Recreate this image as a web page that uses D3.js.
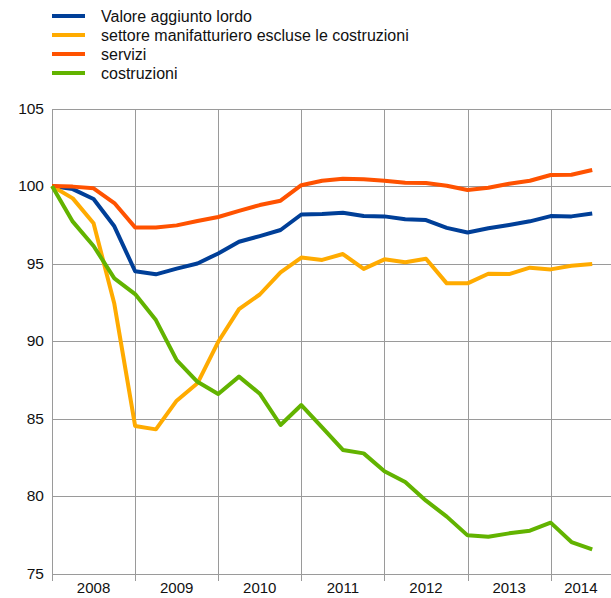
<!DOCTYPE html>
<html><head><meta charset="utf-8">
<script src="https://cdn.jsdelivr.net/npm/d3@7"></script>
<style>body{margin:0;background:#fff}svg{display:block}text{font-family:"Liberation Sans",Arial,sans-serif;fill:#111}</style>
</head><body>
<svg id="c" width="611" height="598"></svg>
<script>
const years = ["2008","2009","2010","2011","2012","2013","2014"];
const yTicks = [75,80,85,90,95,100,105];
const seriesNames = ["Valore aggiunto lordo","settore manifatturiero escluse le costruzioni","servizi","costruzioni"];
const seriesColors = ["#003f98","#ffab00","#ff5200","#62b300"];
// quarterly values, 2008Q1 .. 2014Q3
const valoreAggiunto = [100,99.8,99.16,97.4,94.5,94.3,94.67,95.0,95.65,96.4,96.77,97.16,98.16,98.19,98.28,98.06,98.04,97.85,97.8,97.3,97.0,97.27,97.48,97.72,98.06,98.04,98.23];
const manifatturiero = [100,99.2,97.6,92.4,84.52,84.3,86.15,87.27,89.95,92.06,93.0,94.43,95.38,95.23,95.61,94.65,95.27,95.08,95.31,93.72,93.72,94.34,94.32,94.73,94.62,94.86,94.97];
const servizi = [100,99.96,99.85,98.9,97.33,97.33,97.46,97.74,98.0,98.4,98.77,99.05,100.05,100.34,100.47,100.43,100.34,100.21,100.19,100.02,99.74,99.89,100.15,100.34,100.71,100.73,101.03];
const costruzioni = [100,97.7,96.13,94.04,93.03,91.35,88.77,87.37,86.58,87.7,86.6,84.58,85.87,84.43,82.97,82.75,81.6,80.9,79.7,78.67,77.46,77.37,77.59,77.76,78.28,77.03,76.56];
const allSeries = [valoreAggiunto, manifatturiero, servizi, costruzioni];

const svg = d3.select("#c");
const x0 = 52, x1 = 613, yTop = 108.5, yBot = 573.5;
const x = d3.scaleLinear().domain([0,27]).range([x0,x1]);
const y = d3.scaleLinear().domain([75,105]).range([yBot,yTop]);

const grid = svg.append("g").attr("stroke","#9a9a9a").attr("stroke-width",1);
grid.selectAll("line.h").data(yTicks).join("line")
  .attr("x1",x0).attr("x2",611).attr("y1",d=>Math.round(y(d))+0.5).attr("y2",d=>Math.round(y(d))+0.5);
const yearIdx = years.map((d,i)=>i*4);
grid.selectAll("line.v").data(yearIdx).join("line")
  .attr("x1",d=>Math.round(x(d))+0.5).attr("x2",d=>Math.round(x(d))+0.5)
  .attr("y1",Math.round(yTop)+0.5).attr("y2",Math.round(yBot)+7);

svg.append("g").selectAll("text").data(yTicks).join("text")
  .attr("x",44).attr("y",d=>y(d)).attr("dy","0.35em").attr("text-anchor","end")
  .attr("font-size",15.5).text(d=>d);
svg.append("g").selectAll("text").data(years).join("text")
  .attr("x",(d,i)=>(x(i*4)+Math.min(x(i*4+4),611))/2).attr("y",593)
  .attr("text-anchor","middle").attr("font-size",15).text(d=>d);

const line = d3.line().x((d,i)=>x(i)).y(d=>y(d));
svg.append("g").selectAll("path").data(allSeries).join("path")
  .attr("d",line).attr("fill","none").attr("stroke",(d,i)=>seriesColors[i])
  .attr("stroke-width",4).attr("stroke-linejoin","round");
const lg = svg.append("g").selectAll("g").data(seriesNames).join("g")
  .attr("transform",(d,i)=>`translate(52,${16+i*19})`);
lg.append("line").attr("x1",0).attr("x2",33).attr("stroke",(d,i)=>seriesColors[i]).attr("stroke-width",4);
lg.append("text").attr("x",49).attr("dy","0.35em").attr("font-size",16).text(d=>d);
</script>
</body></html>
